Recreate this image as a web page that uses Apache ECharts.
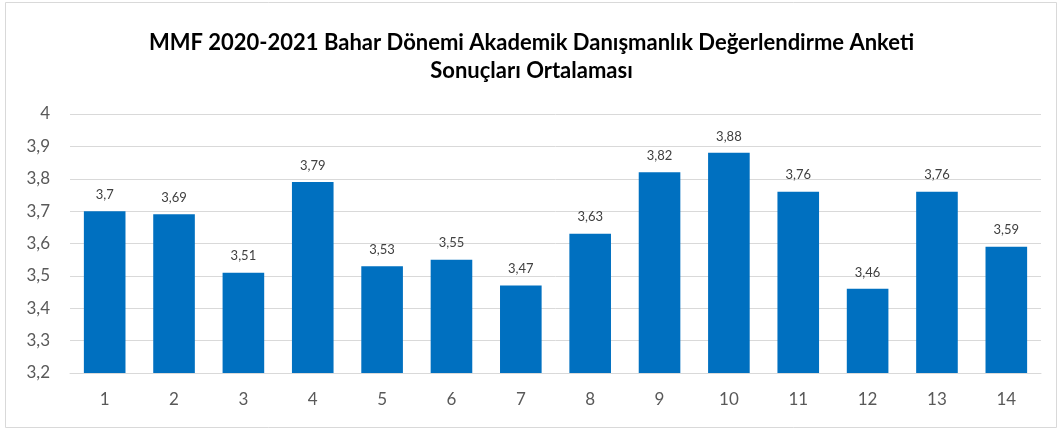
<!DOCTYPE html>
<html>
<head>
<meta charset="utf-8">
<script src="https://cdn.jsdelivr.net/npm/echarts@6/dist/echarts.min.js"></script>
<style>
  html, body { margin: 0; padding: 0; background: #fff; }
  #main { width: 1063px; height: 430px; }
</style>
</head>
<body>
<div id="main"></div>
<script>
// soru numaraları ve ortalamalar
const categories = ['1', '2', '3', '4', '5', '6', '7', '8', '9', '10', '11', '12', '13', '14'];
const values = [3.7, 3.69, 3.51, 3.79, 3.53, 3.55, 3.47, 3.63, 3.82, 3.88, 3.76, 3.46, 3.76, 3.59];
const yTicks = [3.2, 3.3, 3.4, 3.5, 3.6, 3.7, 3.8, 3.9, 4];

const chart = echarts.init(document.getElementById('main'));

function virgul(v) {
  // ondalık ayırıcı virgül
  return String(+v.toFixed(2)).replace('.', ',');
}

const option = {
  backgroundColor: '#fff',
  animation: false,
  title: {
    text: 'MMF 2020-2021 Bahar Dönemi Akademik Danışmanlık Değerlendirme Anketi\nSonuçları Ortalaması',
    left: 'center',
    top: 24,
    textStyle: {
      fontFamily: 'Lato',
      fontWeight: 'bold',
      fontSize: 22,
      lineHeight: 28,
      color: '#000'
    }
  },
  grid: {
    left: 70,
    right: 22,
    top: 114,
    bottom: 57,
    containLabel: false
  },
  xAxis: {
    type: 'category',
    data: categories,
    axisTick: { show: false },
    axisLine: { show: true, lineStyle: { color: '#d9d9d9', width: 1 } },
    axisLabel: {
      color: '#595959',
      fontFamily: 'Lato',
      fontSize: 17,
      margin: 18
    }
  },
  yAxis: {
    type: 'value',
    min: yTicks[0],
    max: yTicks[yTicks.length - 1],
    interval: 0.1,
    axisLine: { show: false },
    axisTick: { show: false },
    splitLine: { lineStyle: { color: '#d9d9d9', width: 1 } },
    axisLabel: {
      color: '#595959',
      fontFamily: 'Lato',
      fontSize: 17,
      margin: 20,
      formatter: function (v) { return virgul(v); }
    }
  },
  series: [{
    type: 'bar',
    data: values,
    barCategoryGap: '40%',
    itemStyle: { color: '#0070C0' },
    label: {
      show: true,
      position: 'top',
      distance: 10,
      color: '#404040',
      fontFamily: 'Lato',
      fontSize: 13,
      formatter: function (p) { return virgul(p.value); }
    }
  }],
  graphic: [{
    type: 'rect',
    shape: { x: 5.5, y: 2.5, width: 1051, height: 425 },
    style: { fill: null, stroke: '#d9d9d9', lineWidth: 1 },
    silent: true,
    z: -1
  }]
};

chart.setOption(option);
</script>
</body>
</html>
